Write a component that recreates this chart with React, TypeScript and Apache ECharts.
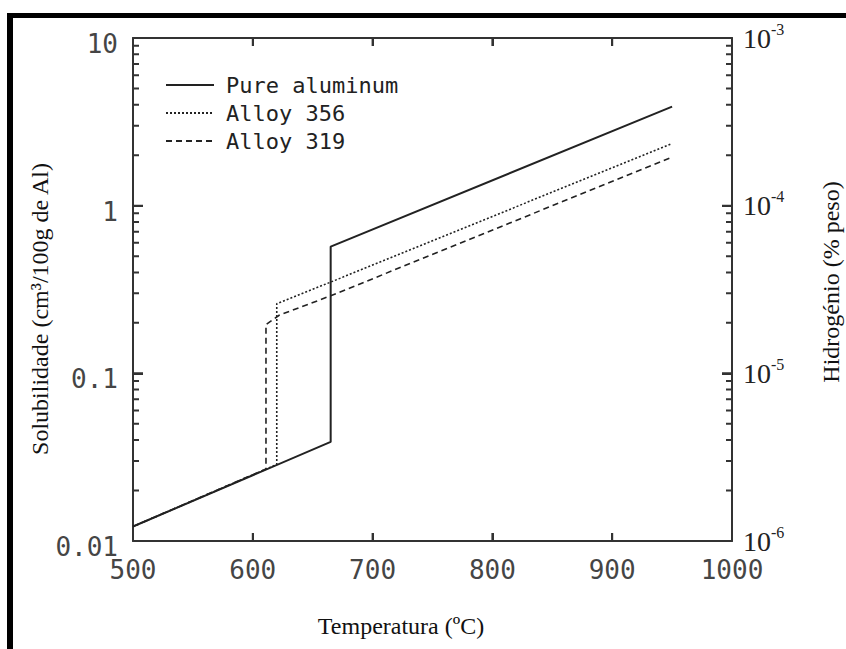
import React, { useEffect, useRef } from "react";
import * as echarts from "echarts";

// Axis ticks / labels
const temperatureMin = 500;
const temperatureMax = 1000;
const temperatureStep = 100;
const temperatureInnerTicks = [600, 700, 800, 900];
const solubilityMin = 0.01;
const solubilityMax = 10;
const solubilityTickLabels = ["0.01", "0.1", "1", "10"];
const solubilityInnerMajors = [0.1, 1];
const hydrogenMin = 1e-6;
const hydrogenMax = 1e-3;
const hydrogenExponents = ["-6", "-5", "-4", "-3"];
const hydrogenInnerMajors = [1e-5, 1e-4];
const minorMultipliers = [2, 3, 4, 5, 6, 7, 8, 9];
const solubilityDecades = [0.01, 0.1, 1];
const hydrogenDecades = [1e-6, 1e-5, 1e-4];

// Series (temperature °C, solubility cm3/100g)
const seriesNames = ["Pure aluminum", "Alloy 356", "Alloy 319"];
const pureAluminumT = [500, 665, 665, 950];
const pureAluminumS = [0.0122, 0.039, 0.57, 3.9];
const alloy356T = [500, 620, 620, 665, 950];
const alloy356S = [0.0122, 0.0286, 0.26, 0.35, 2.35];
const alloy319T = [500, 611, 611, 622, 665, 950];
const alloy319S = [0.0122, 0.0269, 0.195, 0.222, 0.29, 1.95];

const zip = (a: number[], b: number[]) => a.map((v, i) => [v, b[i]]);

const minorValues = (decades: number[]) => {
  const out: number[] = [];
  decades.forEach((d) => minorMultipliers.forEach((m) => out.push(d * m)));
  return out;
};

const INK = "#222";
const AXIS = "#333";
const LABEL = "#454545";

// layout
const GRID = { left: 133, top: 38, right: 114, bottom: 108 };
const PLOT_W = 846 - GRID.left - GRID.right;
const PLOT_H = 649 - GRID.top - GRID.bottom;

export default function App() {
  const ref = useRef<HTMLDivElement>(null);

  useEffect(() => {
    if (!ref.current) return;
    const chart = echarts.init(ref.current, undefined, { renderer: "svg" });

    const decadeIndex = (v: number, base: number) =>
      Math.round(Math.log10(v) - Math.log10(base));

    // convert a tick length in px into axis units
    const xPerPx = (temperatureMax - temperatureMin) / PLOT_W;
    const logPerPx = Math.log10(solubilityMax / solubilityMin) / PLOT_H;

    const lineSeries = (name: string, data: number[][], type: any, width: number) => ({
      name,
      type: "line",
      data,
      symbol: "none",
      smooth: false,
      xAxisIndex: 0,
      yAxisIndex: 0,
      lineStyle: { color: INK, width, type },
      itemStyle: { color: INK },
    });

    // tick marks drawn as short line segments through the axes' scales
    const hTicks = (values: number[], xVal: number, yIndex: number, lenPx: number, dir: number) => {
      const data: any[] = [];
      values.forEach((v) => {
        data.push([xVal, v], [xVal + dir * lenPx * xPerPx, v], [xVal, null]);
      });
      return {
        type: "line",
        xAxisIndex: 0,
        yAxisIndex: yIndex,
        silent: true,
        symbol: "none",
        connectNulls: false,
        clip: false,
        data,
        lineStyle: { color: AXIS, width: 2, type: "solid" },
        itemStyle: { color: AXIS },
      };
    };
    const vTicks = (values: number[], yVal: number, lenPx: number, dir: number) => {
      const data: any[] = [];
      const f = Math.pow(10, dir * lenPx * logPerPx);
      values.forEach((t) => {
        data.push([t, yVal], [t, yVal * f], [t, null]);
      });
      return {
        type: "line",
        xAxisIndex: 0,
        yAxisIndex: 0,
        silent: true,
        symbol: "none",
        connectNulls: false,
        clip: false,
        data,
        lineStyle: { color: AXIS, width: 2, type: "solid" },
        itemStyle: { color: AXIS },
      };
    };

    const serif = "'Liberation Serif', 'DejaVu Serif', serif";
    const mono = "'DejaVu Sans Mono', 'Liberation Mono', monospace";

    const mkTick = (length: number) => ({
      show: true,
      inside: true,
      length,
      lineStyle: { color: AXIS, width: 2 },
    });
    const mkLine = () => ({ show: true, lineStyle: { color: AXIS, width: 2 } });

    chart.setOption({
      animation: false,
      backgroundColor: "#fff",
      grid: GRID,
      legend: {
        data: seriesNames,
        orient: "vertical",
        left: 160,
        top: 69,
        itemWidth: 48,
        itemHeight: 14,
        itemGap: 6,
        itemStyle: { opacity: 0 },
        textStyle: {
          fontFamily: mono,
          fontSize: 22,
          color: INK,
          lineHeight: 22,
          padding: [0, 0, 0, 7],
        },
      },
      xAxis: [
        {
          type: "value",
          min: temperatureMin,
          max: temperatureMax,
          interval: temperatureStep,
          position: "bottom",
          axisLine: mkLine(),
          axisTick: mkTick(8),
          axisLabel: {
            show: true,
            margin: 16,
            fontFamily: mono,
            fontSize: 26,
            color: LABEL,
            formatter: (v: number) => String(v),
          },
          splitLine: { show: false },
        },
        {
          type: "value",
          min: temperatureMin,
          max: temperatureMax,
          interval: temperatureStep,
          position: "top",
          axisLine: mkLine(),
          axisTick: mkTick(8),
          axisLabel: { show: false },
          splitLine: { show: false },
        },
      ],
      yAxis: [
        {
          type: "log",
          logBase: 10,
          min: solubilityMin,
          max: solubilityMax,
          position: "left",
          axisLine: mkLine(),
          axisTick: mkTick(10),
          axisLabel: {
            show: true,
            margin: 15,
            color: LABEL,
            formatter: (v: number) =>
              `{a|${solubilityTickLabels[decadeIndex(v, solubilityMin)] ?? ""}}`,
            rich: {
              a: { fontFamily: mono, fontSize: 26, color: LABEL, padding: [12, 0, 0, 0] },
            },
          },
          splitLine: { show: false },
        },
        {
          type: "log",
          logBase: 10,
          min: hydrogenMin,
          max: hydrogenMax,
          position: "right",
          axisLine: mkLine(),
          axisTick: mkTick(10),
          axisLabel: {
            show: true,
            margin: 11,
            color: INK,
            formatter: (v: number) =>
              `{b|10}{s|${hydrogenExponents[decadeIndex(v, hydrogenMin)] ?? ""}}`,
            rich: {
              b: { fontFamily: serif, fontSize: 28, color: INK },
              s: { fontFamily: serif, fontSize: 16, color: INK, padding: [0, 0, 18, 0] },
            },
          },
          splitLine: { show: false },
        },
      ],
      graphic: [
        { type: "rect", shape: { x: 7, y: 13, width: 839, height: 5 }, style: { fill: "#000" } },
        { type: "rect", shape: { x: 7, y: 13, width: 6, height: 636 }, style: { fill: "#000" } },
        {
          type: "text",
          x: 40,
          y: 309,
          rotation: Math.PI / 2,
          style: {
            text: "Solubilidade (cm³/100g de Al)",
            fontFamily: serif,
            fontSize: 24,
            fill: "#111",
            align: "center",
            verticalAlign: "middle",
          },
        },
        {
          type: "text",
          x: 831,
          y: 282,
          rotation: Math.PI / 2,
          style: {
            text: "Hidrogénio (% peso)",
            fontFamily: serif,
            fontSize: 24,
            fill: "#111",
            align: "center",
            verticalAlign: "middle",
          },
        },
        {
          type: "text",
          x: 401,
          y: 626,
          style: {
            text: "Temperatura (ºC)",
            fontFamily: serif,
            fontSize: 24,
            fill: "#111",
            align: "center",
            verticalAlign: "middle",
          },
        },
      ],
      series: [
        lineSeries(seriesNames[0], zip(pureAluminumT, pureAluminumS), "solid", 2),
        lineSeries(seriesNames[1], zip(alloy356T, alloy356S), [2, 2], 1.6),
        lineSeries(seriesNames[2], zip(alloy319T, alloy319S), [6, 4], 1.6),
        hTicks(minorValues(solubilityDecades), temperatureMin, 0, 6, 1),
        hTicks(solubilityInnerMajors, temperatureMin, 0, 10, 1),
        hTicks(minorValues(hydrogenDecades), temperatureMax, 1, 6, -1),
        hTicks(hydrogenInnerMajors, temperatureMax, 1, 10, -1),
        vTicks(temperatureInnerTicks, solubilityMin, 8, 1),
        vTicks(temperatureInnerTicks, solubilityMax, 8, -1),
      ],
    });

    return () => chart.dispose();
  }, []);

  return (
    <div
      ref={ref}
      style={{ position: "absolute", left: 0, top: 0, width: 846, height: 649 }}
    />
  );
}
